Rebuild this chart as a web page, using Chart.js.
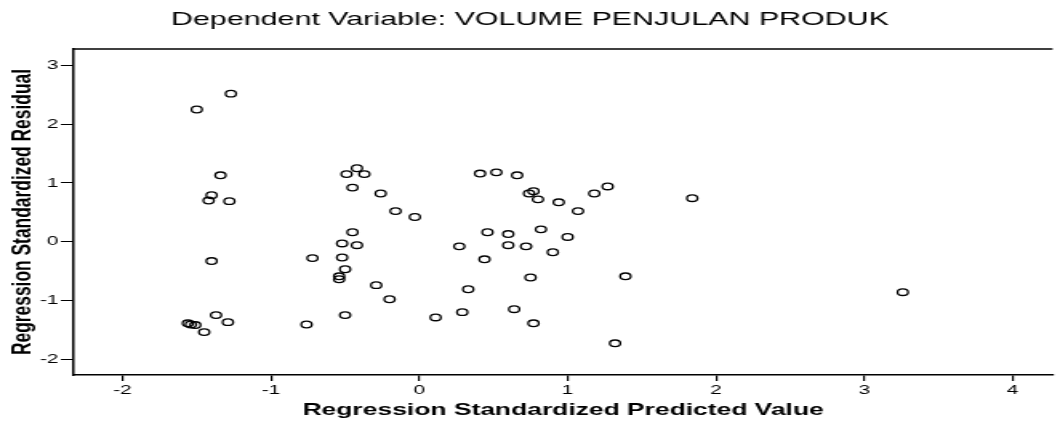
<!DOCTYPE html>
<html>
<head>
<meta charset="utf-8">
<script src="https://cdn.jsdelivr.net/npm/chart.js@4"></script>
<style>
	html, body { margin: 0; padding: 0; background: #fff; }
</style>
</head>
<body>
<!-- drawn at 662 wide and stretched to 1060, like the original SPSS picture -->
<canvas id="scatter" width="662" height="425" style="width:1060px;height:425px;display:block"></canvas>
<script>
const chartTitle = "Dependent Variable: VOLUME PENJULAN PRODUK";
const xTitle = "Regression Standardized Predicted Value";
const yTitle = "Regression Standardized Residual";

const xTicks = [-2, -1, 0, 1, 2, 3, 4];
const yTicks = [-2, -1, 0, 1, 2, 3];

// Standardized predicted values
const predicted = [
	-1.50, -1.27, -1.34, -1.40, -1.42, -1.28, -1.40, -1.56, -1.54, -1.51,
	-1.45, -1.37, -1.29, -0.76, -0.72, -0.49, -0.42, -0.37, -0.45, -0.26,
	-0.16, -0.03, -0.45, -0.52, -0.42, -0.52, -0.50, -0.54, -0.54, -0.29,
	-0.20, -0.50, 0.11, 0.29, 0.33, 0.27, 0.41, 0.52, 0.66, 0.74,
	0.77, 0.80, 0.94, 1.07, 1.18, 1.27, 1.84, 0.46, 0.60, 0.82,
	1.00, 0.60, 0.72, 0.90, 0.44, 0.75, 1.39, 0.64, 0.77, 1.32,
	3.26
];

// Standardized residuals
const residual = [
	2.25, 2.52, 1.13, 0.79, 0.70, 0.69, -0.33, -1.39, -1.41, -1.42,
	-1.54, -1.25, -1.37, -1.41, -0.28, 1.15, 1.25, 1.15, 0.92, 0.82,
	0.52, 0.42, 0.16, -0.03, -0.06, -0.27, -0.47, -0.59, -0.64, -0.74,
	-0.98, -1.25, -1.29, -1.20, -0.81, -0.08, 1.16, 1.18, 1.13, 0.82,
	0.86, 0.72, 0.67, 0.52, 0.82, 0.94, 0.74, 0.16, 0.13, 0.21,
	0.08, -0.06, -0.08, -0.18, -0.30, -0.61, -0.59, -1.15, -1.39, -1.73,
	-0.86
];

document.addEventListener('DOMContentLoaded', function() {
	Chart.defaults.font.family = "'Liberation Sans', Arial, Helvetica, sans-serif";
	Chart.defaults.color = "#000";

	const points = predicted.map((x, i) => ({ x: x, y: residual[i] }));

	// the frame has a top line too
	const topLine = {
		id: 'topLine',
		afterDraw(chart) {
			const { ctx, chartArea } = chart;
			ctx.save();
			ctx.strokeStyle = "#000";
			ctx.lineWidth = 1.5;
			ctx.beginPath();
			ctx.moveTo(chartArea.left, chartArea.top);
			ctx.lineTo(chartArea.right, chartArea.top);
			ctx.stroke();
			ctx.restore();
		}
	};

	const ctx = document.getElementById("scatter").getContext("2d");

	new Chart(ctx, {
		type: "scatter",
		data: {
			datasets: [{
				data: points,
				pointStyle: "circle",
				pointRadius: 3.3,
				pointHoverRadius: 3.3,
				pointBorderWidth: 1.3,
				pointBorderColor: "#000",
				pointBackgroundColor: "rgba(0,0,0,0)"
			}]
		},
		options: {
			responsive: false,
			devicePixelRatio: 1,
			animation: false,
			layout: { padding: 0 },
			plugins: {
				legend: { display: false },
				tooltip: { enabled: false },
				title: {
					display: true,
					text: chartTitle,
					color: "#000",
					font: { size: 19, weight: "normal" },
					padding: { top: 8.6, bottom: 17.6 }
				}
			},
			scales: {
				x: {
					type: "linear",
					min: -2.33,
					max: 4.27,
					afterFit: scale => { scale.height = 50; },
					afterBuildTicks: scale => { scale.ticks = xTicks.map(v => ({ value: v })); },
					ticks: { color: "#000", font: { size: 13 }, padding: 2 },
					grid: { drawOnChartArea: false, drawTicks: true, tickLength: 6, color: "#000", lineWidth: 1.2 },
					border: { display: true, color: "#000", width: 1.5 },
					title: {
						display: true,
						text: xTitle,
						color: "#000",
						font: { size: 16.5, weight: "bold" },
						padding: { top: 0, bottom: 5 }
					}
				},
				y: {
					type: "linear",
					min: -2.27,
					max: 3.28,
					afterFit: scale => { scale.width = 46; },
					afterBuildTicks: scale => { scale.ticks = yTicks.map(v => ({ value: v })); },
					ticks: { color: "#000", font: { size: 13 }, padding: 1.5 },
					grid: { drawOnChartArea: false, drawTicks: true, tickLength: 8, color: "#000", lineWidth: 1 },
					border: { display: true, color: "#000", width: 1.5 },
					title: {
						display: true,
						text: yTitle,
						color: "#000",
						font: { size: 17.4, weight: "bold" },
						padding: { top: 3.4, bottom: 0 }
					}
				}
			}
		},
		plugins: [topLine]
	});
});
</script>
</body>
</html>
